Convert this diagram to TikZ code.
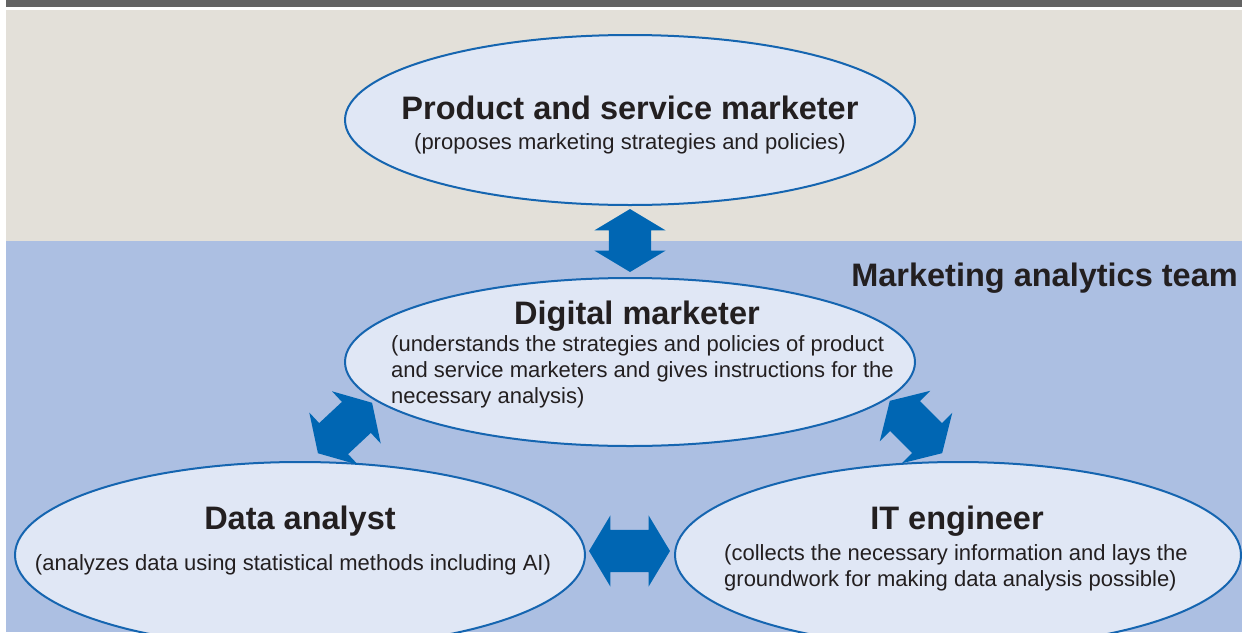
\documentclass[tikz,border=0pt]{standalone}
\usepackage{fontspec}
\setmainfont{Liberation Sans}
\usetikzlibrary{shapes.geometric,shapes.arrows}

\definecolor{barGray}{HTML}{636363}
\definecolor{sandBg}{HTML}{E3E0D9}
\definecolor{teamBg}{HTML}{ACBFE2}
\definecolor{roleFill}{HTML}{E0E7F5}
\definecolor{roleLine}{HTML}{1565B0}
\definecolor{linkBlue}{HTML}{0066B3}
\definecolor{inkText}{HTML}{231F20}

\tikzset{
  role/.style={ellipse, draw=roleLine, line width=2pt, fill=roleFill,
    inner sep=0pt, minimum width=570pt},
  roletitle/.style={anchor=base, inner sep=0pt, text=inkText,
    font=\fontsize{32.5}{36}\selectfont\bfseries},
  roletext/.style={inner sep=0pt, text=inkText, align=left,
    font=\fontsize{22}{26}\selectfont},
  link/.style={double arrow, fill=linkBlue, draw=none,
    inner xsep=0pt, inner ysep=21pt,
    minimum width=71pt, double arrow head extend=14.5pt,
    double arrow tip angle=118}
}

\begin{document}
\begin{tikzpicture}[x=1pt,y=-1pt]
  \useasboundingbox (0,0) rectangle (1242,632);
  \clip (0,0) rectangle (1242,632);

  % page furniture: header bar and the two background bands
  \fill[barGray] (6,0) rectangle (1242,7);
  \fill[sandBg] (6,10) rectangle (1242,241);
  \fill[teamBg] (6,241) rectangle (1242,632);

  % role ellipses
  \node[role, minimum height=170pt] (psm) at (630,120) {};
  \node[role, minimum height=168pt] (dm) at (630,362) {};
  \node[role, minimum height=186pt] (da) at (300,555) {};
  \node[role, minimum width=566pt, minimum height=186pt] (ite) at (958,555) {};

  % team label
  \node[roletitle, anchor=base east] (team) at (1238,286) {Marketing analytics team};

  % product and service marketer
  \node[roletitle] (psmT) at (630,119) {Product and service marketer};
  \node[roletext, anchor=base] (psmS) at (630,149) {(proposes marketing strategies and policies)};

  % digital marketer (anchored on the baseline of its last line)
  \node[roletitle] (dmT) at (637,324) {Digital marketer};
  \node[roletext, anchor=base west] (dmS) at (391,403)
    {(understands the strategies and policies of product\\
     and service marketers and gives instructions for the\\
     necessary analysis)};

  % data analyst
  \node[roletitle] (daT) at (300,529) {Data analyst};
  \node[roletext, anchor=base] (daS) at (293,570)
    {(analyzes data using statistical methods including AI)};

  % IT engineer (anchored on the baseline of its last line)
  \node[roletitle] (iteT) at (957,529) {IT engineer};
  \node[roletext, anchor=base west] (iteS) at (724,586)
    {(collects the necessary information and lays the\\
     groundwork for making data analysis possible)};

  % two-way links between the roles
  \node[link, rotate=90, minimum height=63pt] (lnkTop) at (630,240.5) {};
  \node[link, rotate=43, minimum height=74pt] (lnkLeft) at (345,428) {};
  \node[link, rotate=-45, minimum height=74pt] (lnkRight) at (916,427) {};
  \node[link, minimum height=81pt] (lnkMid) at (629.5,551) {};
\end{tikzpicture}
\end{document}
